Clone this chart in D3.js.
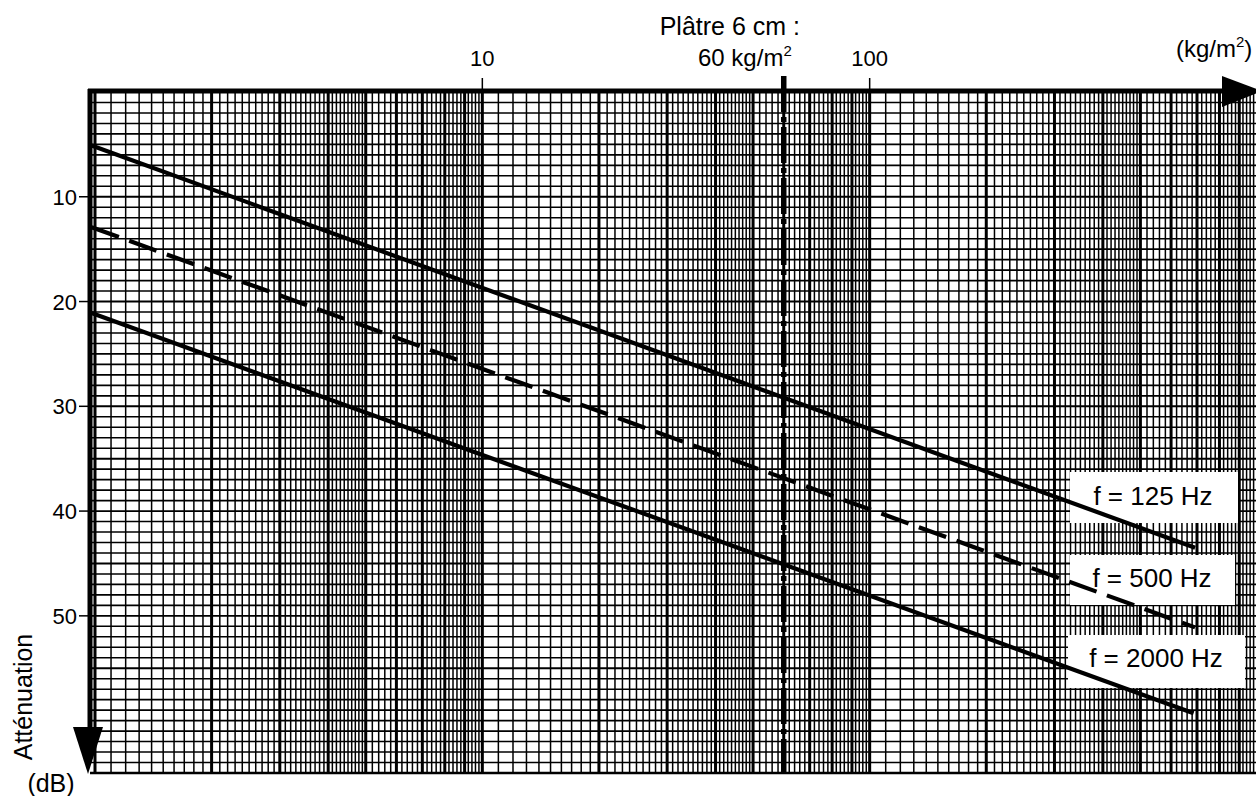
<!DOCTYPE html>
<html>
<head>
<meta charset="utf-8">
<script src="https://cdnjs.cloudflare.com/ajax/libs/d3/7.8.5/d3.min.js"></script>
<style>
    body { margin: 0; background: #fff; }
    svg { display: block; }
    text { font-family: "Liberation Sans", Arial, Helvetica, sans-serif; fill: #000; }
</style>
</head>
<body>
<div id="chart"></div>
<script>
// values
var curveLabels = ["f = 125 Hz", "f = 500 Hz", "f = 2000 Hz"];
var curveMass = [[0.98, 692], [0.98, 692], [0.98, 686]];
var curveAtten = [[5.1, 43.5], [12.9, 51.1], [21.1, 59.3]];
var curveDashed = [false, true, false];
var xTickValues = [10, 100];
var yTickValues = [10, 20, 30, 40, 50];
var markerMass = 60;
var markerText = ["Plâtre 6 cm :", "60 kg/m"];

var width = 1256,
    height = 796;

var svg = d3.select("#chart").append("svg")
            .attr("width", width)
            .attr("height", height);

var x = d3.scaleLog().domain([1, 1000]).range([95, 1257]);
var y = d3.scaleLinear().domain([0, 65]).range([92, 773]);

var plotLeft = 90,
    plotTop = 91,
    plotBottom = y(65),
    plotRight = width;

/* grid of the semi-log paper */
var gridSteps = [[1, 2, 0.1], [2, 5, 0.1], [5, 10, 0.2]];
var vLines = [];
[1, 10, 100].forEach(function(dec) {
    gridSteps.forEach(function(s) {
        var n = Math.round((s[1] - s[0]) / s[2]);
        for (var i = 0; i < n; i++) {
            var v = Math.round((s[0] + i * s[2]) * 100) / 100;
            vLines.push({value: v * dec, major: v === Math.round(v)});
        }
    });
});
var hLines = d3.range(1, 65);

var grid = svg.append("g").attr("class", "grid");
grid.selectAll(".vl")
    .data(vLines.filter(function(d) { return x(d.value) > plotLeft && x(d.value) < plotRight; }))
    .enter().append("line")
    .attr("class", "vl")
    .attr("x1", function(d) { return x(d.value); })
    .attr("x2", function(d) { return x(d.value); })
    .attr("y1", plotTop)
    .attr("y2", plotBottom)
    .attr("stroke", "#000")
    .attr("stroke-width", function(d) { return d.major ? 3 : 1.5; });
grid.selectAll(".hl")
    .data(hLines)
    .enter().append("line")
    .attr("class", "hl")
    .attr("x1", plotLeft)
    .attr("x2", plotRight)
    .attr("y1", function(d) { return y(d); })
    .attr("y2", function(d) { return y(d); })
    .attr("stroke", "#000")
    .attr("stroke-width", function(d) { return d % 5 === 0 ? 1.9 : 1.6; });

// white boxes behind the curve names
var boxes = [[1070, 472, 168, 51], [1070, 555, 165, 50], [1068, 635, 177, 53]];
svg.selectAll(".box")
    .data(boxes)
    .enter().append("rect")
    .attr("class", "box")
    .attr("x", function(d) { return d[0]; })
    .attr("y", function(d) { return d[1]; })
    .attr("width", function(d) { return d[2]; })
    .attr("height", function(d) { return d[3]; })
    .attr("fill", "#fff");

/* axes */
svg.append("line")
    .attr("x1", plotLeft).attr("x2", plotRight)
    .attr("y1", plotBottom).attr("y2", plotBottom)
    .attr("stroke", "#000").attr("stroke-width", 2.5);
svg.append("line")
    .attr("x1", plotLeft - 2).attr("x2", 1226)
    .attr("y1", plotTop).attr("y2", plotTop)
    .attr("stroke", "#000").attr("stroke-width", 5);
svg.append("path")
    .attr("d", "M1222,76L1262," + plotTop + "L1222,107Z")
    .attr("fill", "#000");
svg.append("line")
    .attr("x1", plotLeft).attr("x2", plotLeft)
    .attr("y1", plotTop - 2).attr("y2", 730)
    .attr("stroke", "#000").attr("stroke-width", 5);
svg.append("path")
    .attr("d", "M73,727L103,727L88,774Z")
    .attr("fill", "#000");

// y ticks and labels
var yAxis = svg.append("g");
yAxis.selectAll(".ytick")
    .data(yTickValues)
    .enter().append("line")
    .attr("x1", 79).attr("x2", plotLeft)
    .attr("y1", function(d) { return y(d); })
    .attr("y2", function(d) { return y(d); })
    .attr("stroke", "#000").attr("stroke-width", 1.5);
yAxis.selectAll(".ylab")
    .data(yTickValues)
    .enter().append("text")
    .attr("x", 77)
    .attr("y", function(d) { return y(d) + 8; })
    .attr("text-anchor", "end")
    .attr("font-size", 22)
    .text(function(d) { return d; });

// x ticks and labels (above the top axis)
var xAxis = svg.append("g");
xAxis.selectAll(".xtick")
    .data(xTickValues)
    .enter().append("line")
    .attr("x1", function(d) { return x(d); })
    .attr("x2", function(d) { return x(d); })
    .attr("y1", 78).attr("y2", plotTop)
    .attr("stroke", "#000").attr("stroke-width", 1.5);
xAxis.selectAll(".xlab")
    .data(xTickValues)
    .enter().append("text")
    .attr("x", function(d) { return x(d); })
    .attr("y", 66)
    .attr("text-anchor", "middle")
    .attr("font-size", 22)
    .text(function(d) { return d; });

var unit = svg.append("text")
    .attr("x", 1176)
    .attr("y", 57)
    .attr("font-size", 24);
unit.append("tspan").text("(kg/m");
unit.append("tspan").attr("font-size", 15).attr("dy", -10).text("2");
unit.append("tspan").attr("dy", 10).text(")");

svg.append("text")
    .attr("transform", "translate(32,697) rotate(-90)")
    .attr("text-anchor", "middle")
    .attr("font-size", 25)
    .text("Atténuation");
svg.append("text")
    .attr("x", 51)
    .attr("y", 792)
    .attr("text-anchor", "middle")
    .attr("font-size", 25)
    .text("(dB)");

/* 60 kg/m2 marker */
svg.append("line")
    .attr("x1", x(markerMass)).attr("x2", x(markerMass))
    .attr("y1", 76).attr("y2", plotBottom)
    .attr("stroke", "#000")
    .attr("stroke-width", 5.5)
    .attr("stroke-dasharray", "36,5,5,5");
svg.append("text")
    .attr("x", 800)
    .attr("y", 35)
    .attr("text-anchor", "end")
    .attr("font-size", 25)
    .text(markerText[0]);
var mLab = svg.append("text")
    .attr("x", 698)
    .attr("y", 66)
    .attr("font-size", 24);
mLab.append("tspan").text(markerText[1]);
mLab.append("tspan").attr("font-size", 15).attr("dy", -10).text("2");

/* attenuation curves */
var line = d3.line()
    .x(function(d) { return x(d[0]); })
    .y(function(d) { return y(d[1]); });
curveLabels.forEach(function(name, i) {
    var pts = curveMass[i].map(function(m, j) { return [m, curveAtten[i][j]]; });
    svg.append("path")
        .datum(pts)
        .attr("d", line)
        .attr("fill", "none")
        .attr("stroke", "#000")
        .attr("stroke-width", 4.2)
        .attr("stroke-dasharray", curveDashed[i] ? "29,11" : null);
});

var labelPos = [[1153, 505], [1152, 587], [1156, 667]];
svg.selectAll(".clab")
    .data(curveLabels)
    .enter().append("text")
    .attr("class", "clab")
    .attr("x", function(d, i) { return labelPos[i][0]; })
    .attr("y", function(d, i) { return labelPos[i][1]; })
    .attr("text-anchor", "middle")
    .attr("font-size", 26)
    .text(function(d) { return d; });
</script>
</body>
</html>
